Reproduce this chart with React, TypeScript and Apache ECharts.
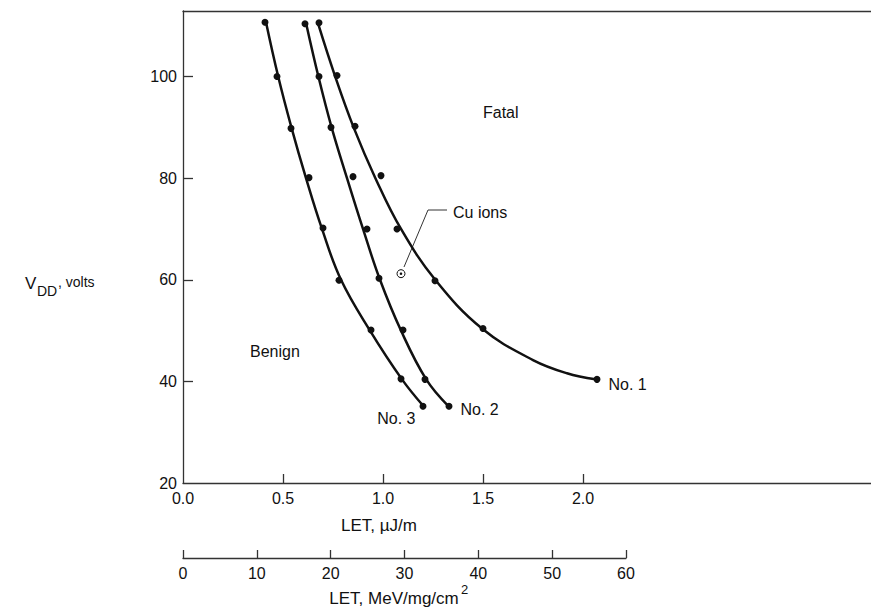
import React, { useEffect, useRef } from "react";
import * as echarts from "echarts";

// Measured points (LET in µJ/m, VDD in volts) for each device
const no1X = [0.68, 0.77, 0.86, 0.99, 1.07, 1.26, 1.5, 2.07];
const no1Y = [110.6, 100.2, 90.2, 80.5, 70, 59.8, 50.4, 40.4];
const no2X = [0.61, 0.68, 0.74, 0.85, 0.92, 0.98, 1.1, 1.21, 1.33];
const no2Y = [110.4, 100, 90, 80.3, 70, 60.3, 50.1, 40.4, 35.1];
const no3X = [0.41, 0.47, 0.54, 0.63, 0.7, 0.78, 0.94, 1.09, 1.2];
const no3Y = [110.7, 100, 89.8, 80.1, 70.2, 59.9, 50.1, 40.5, 35.1];
const cuIons = [1.09, 61.2];

// Fitted curves as drawn in the figure
const fit1X = [0.674, 0.761, 0.853, 0.962, 1.09, 1.261, 1.495, 1.75, 1.92, 2.062];
const fit1Y = [110.6, 100, 90, 80, 70, 60, 50.4, 44.2, 41.6, 40.4];
const fit2X = [0.616, 0.677, 0.743, 0.82, 0.9, 0.985, 1.09, 1.216, 1.328];
const fit2Y = [110.4, 100, 90, 80, 70, 60, 50, 40.4, 35.1];
const fit3X = [0.414, 0.476, 0.542, 0.615, 0.695, 0.79, 0.935, 1.095, 1.203];
const fit3Y = [110.9, 100, 90, 80, 70, 60, 50, 40.4, 35.1];

const xTickLabels = [0, 0.5, 1.0, 1.5, 2.0];
const xTicks = [0.5, 1.0, 1.5, 2.0];
const yTickLabels = [20, 40, 60, 80, 100];
const yTicks = [40, 60, 80, 100];
const x2Ticks = [0, 10, 20, 30, 40, 50, 60];

const FONT = "'Liberation Sans', Arial, Helvetica, sans-serif";
const INK = "#111";
const AXIS = "#333";

const pairs = (xs: number[], ys: number[]) => xs.map((x, i) => [x, ys[i]]);

function markers(xs: number[], ys: number[], name: string, labelCfg: any) {
  return xs.map((x, i) => {
    if (i === xs.length - 1) {
      return {
        value: [x, ys[i]],
        label: {
          show: true,
          formatter: name,
          fontSize: 16,
          color: INK,
          fontFamily: FONT,
          ...labelCfg,
        },
      };
    }
    return [x, ys[i]];
  });
}

export default function App() {
  const ref = useRef<HTMLDivElement>(null);
  useEffect(() => {
    if (!ref.current) return;
    const chart = echarts.init(ref.current, null, { renderer: "svg" });
    const fitSeries = (xs: number[], ys: number[]) => ({
      type: "line",
      xAxisIndex: 0,
      yAxisIndex: 0,
      data: pairs(xs, ys),
      smooth: 0.4,
      showSymbol: false,
      symbol: "none",
      lineStyle: { color: INK, width: 2.5 },
      z: 2,
    });
    const markSeries = (data: any[]) => ({
      type: "scatter",
      xAxisIndex: 0,
      yAxisIndex: 0,
      data,
      symbol: "circle",
      symbolSize: 7,
      itemStyle: { color: INK, opacity: 1 },
      z: 3,
    });
    chart.setOption({
      animation: false,
      backgroundColor: "#fff",
      textStyle: { fontFamily: FONT },
      grid: [
        { left: 183, top: 11, right: 0, bottom: 124 },
        { left: 183, top: 500, width: 443, height: 58 },
      ],
      xAxis: [
        {
          gridIndex: 0,
          type: "value",
          position: "bottom",
          min: 0,
          max: 3.44,
          axisLine: { show: true, onZero: false, lineStyle: { color: AXIS, width: 1.3 } },
          axisTick: { show: true, inside: true, length: 9, customValues: xTicks, lineStyle: { color: AXIS, width: 1.3 } },
          axisLabel: {
            customValues: xTickLabels,
            formatter: (v: number) => v.toFixed(1),
            fontSize: 16,
            color: INK,
            margin: 7,
          },
          splitLine: { show: false },
        },
        {
          gridIndex: 0,
          type: "value",
          position: "top",
          min: 0,
          max: 3.44,
          axisLine: { show: true, onZero: false, lineStyle: { color: AXIS, width: 1.3 } },
          axisTick: { show: false },
          axisLabel: { show: false },
          splitLine: { show: false },
        },
        {
          gridIndex: 1,
          type: "value",
          position: "bottom",
          min: 0,
          max: 60,
          interval: 10,
          axisLine: { show: true, onZero: false, lineStyle: { color: AXIS, width: 1.3 } },
          axisTick: { show: true, inside: true, length: 8, customValues: x2Ticks, lineStyle: { color: AXIS, width: 1.3 } },
          axisLabel: { customValues: x2Ticks, fontSize: 16, color: INK, margin: 7 },
          splitLine: { show: false },
        },
      ],
      yAxis: [
        {
          gridIndex: 0,
          type: "value",
          min: 20,
          max: 112.9,
          interval: 20,
          axisLine: { show: true, onZero: false, lineStyle: { color: AXIS, width: 1.3 } },
          axisTick: { show: true, inside: true, length: 10, customValues: yTicks, lineStyle: { color: AXIS, width: 1.3 } },
          axisLabel: { customValues: yTickLabels, fontSize: 16, color: INK, margin: 6 },
          splitLine: { show: false },
        },
        { gridIndex: 1, type: "value", min: 0, max: 1, show: false },
      ],
      series: [
        fitSeries(fit1X, fit1Y),
        fitSeries(fit2X, fit2Y),
        fitSeries(fit3X, fit3Y),
        markSeries(markers(no1X, no1Y, "No. 1", { position: "right", distance: 8, offset: [0, 5] })),
        markSeries(markers(no2X, no2Y, "No. 2", { position: "right", distance: 8, offset: [0, 3] })),
        markSeries(markers(no3X, no3Y, "No. 3", { position: "left", distance: 4, offset: [0, 12] })),
        {
          type: "scatter",
          xAxisIndex: 0,
          yAxisIndex: 0,
          data: [cuIons],
          symbol: "circle",
          symbolSize: 8,
          itemStyle: { color: "#fff", borderColor: INK, borderWidth: 1, opacity: 1 },
          z: 5,
        },
        {
          type: "scatter",
          xAxisIndex: 0,
          yAxisIndex: 0,
          data: [cuIons],
          symbol: "circle",
          symbolSize: 2.5,
          itemStyle: { color: INK, opacity: 1 },
          z: 6,
        },
      ],
      graphic: [
        { type: "text", x: 483, y: 112, style: { text: "Fatal", fontSize: 16, fill: INK, fontFamily: FONT, verticalAlign: "middle" } },
        { type: "text", x: 250, y: 351, style: { text: "Benign", fontSize: 16, fill: INK, fontFamily: FONT, verticalAlign: "middle" } },
        { type: "text", x: 453, y: 212, style: { text: "Cu ions", fontSize: 16, fill: INK, fontFamily: FONT, verticalAlign: "middle" } },
        {
          type: "polyline",
          shape: { points: [[404, 267], [428, 210], [447, 210]] },
          style: { stroke: "#333", lineWidth: 1, fill: "none" },
        },
        { type: "text", x: 25, y: 283, style: { text: "V", fontSize: 17, fill: INK, fontFamily: FONT, verticalAlign: "middle" } },
        { type: "text", x: 37, y: 291, style: { text: "DD", fontSize: 14, fill: INK, fontFamily: FONT, verticalAlign: "middle" } },
        { type: "text", x: 58, y: 282, style: { text: ", volts", fontSize: 14, fill: INK, fontFamily: FONT, verticalAlign: "middle" } },
        { type: "text", x: 379, y: 525, style: { text: "LET, µJ/m", fontSize: 17, fill: INK, fontFamily: FONT, align: "center", verticalAlign: "middle" } },
        { type: "text", x: 394, y: 598, style: { text: "LET, MeV/mg/cm", fontSize: 17, fill: INK, fontFamily: FONT, align: "center", verticalAlign: "middle" } },
        { type: "text", x: 461, y: 589, style: { text: "2", fontSize: 13, fill: INK, fontFamily: FONT, verticalAlign: "middle" } },
      ],
    });
    return () => chart.dispose();
  }, []);
  return (
    <div
      ref={ref}
      style={{ position: "absolute", left: 0, top: 0, width: 871, height: 607 }}
    />
  );
}
